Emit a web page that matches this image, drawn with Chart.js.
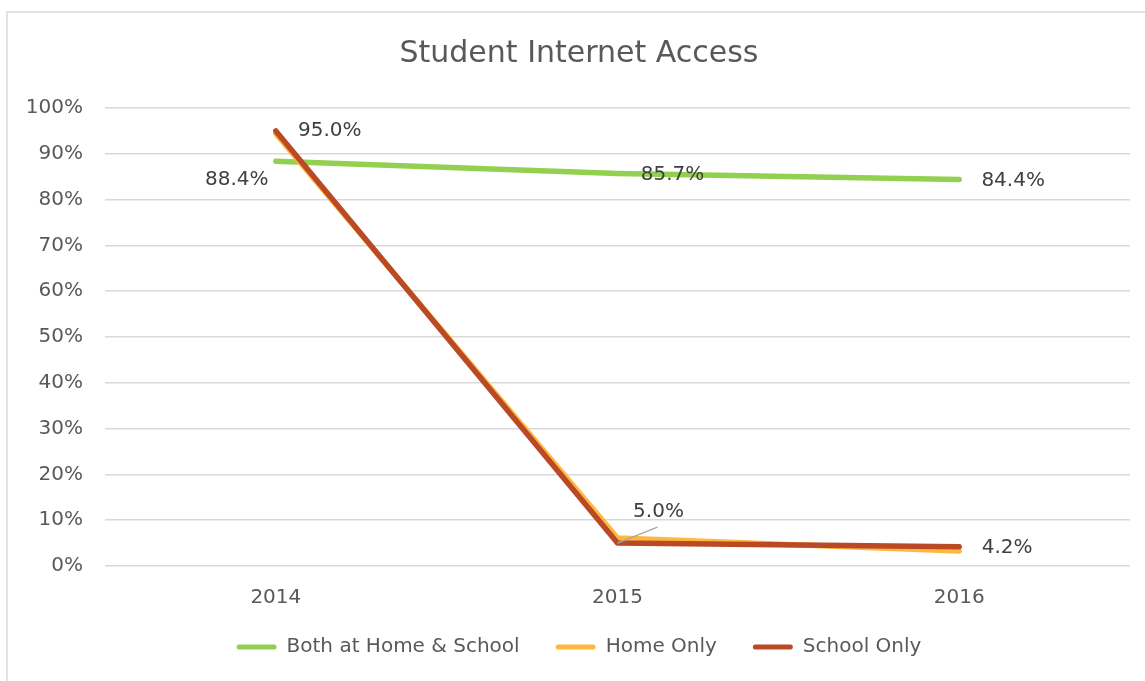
<!DOCTYPE html>
<html>
<head>
<meta charset="utf-8">
<script src="https://cdn.jsdelivr.net/npm/chart.js@4.4.1/dist/chart.umd.min.js"></script>
<style>
html,body{margin:0;padding:0;background:#fff;overflow:hidden;}
#wrap{width:1145px;height:681px;position:relative;}
</style>
</head>
<body>
<div id="wrap"><canvas id="c" width="1145" height="681"></canvas></div>
<script>
const categories = ['2014', '2015', '2016'];
const bothHomeSchool = [88.4, 85.7, 84.4];
const homeOnly = [94.4, 6.1, 3.3];
const schoolOnly = [95.0, 5.0, 4.2];
const yTicks = [0, 10, 20, 30, 40, 50, 60, 70, 80, 90, 100];

const FONT = "'DejaVu Sans', 'Liberation Sans', sans-serif";
const TEXT = '#595959';

// label placement (pixel offsets from the point: style only)
const labelSpec = {
  0: {show: [true, true, true], dx: [-39, 55, 54], dy: [19, 1, 1]},
  2: {show: [true, true, true], dx: [54, 41, 48], dy: [0, -31, 1], leader: [false, true, false]}
};

const frame = {
  id: 'frame',
  beforeDraw(chart) {
    const ctx = chart.ctx;
    ctx.save();
    ctx.fillStyle = '#fff';
    ctx.fillRect(0, 0, chart.width, chart.height);
    ctx.strokeStyle = '#d9d9d9';
    ctx.lineWidth = 1.5;
    ctx.strokeRect(7, 12, chart.width + 20, chart.height + 20);
    ctx.restore();
  },
  afterLayout(chart) {
    // let the category labels draw below the tightened axis box
    const s = chart.scales.x;
    s.bottom = s.top + 60;
  }
};

const dataLabels = {
  id: 'dataLabels',
  afterDatasetsDraw(chart) {
    const ctx = chart.ctx;
    ctx.save();
    ctx.font = '20px ' + FONT;
    ctx.fillStyle = '#404040';
    ctx.textAlign = 'center';
    ctx.textBaseline = 'middle';
    Object.keys(labelSpec).forEach(k => {
      const i = +k;
      const spec = labelSpec[i];
      const meta = chart.getDatasetMeta(i);
      const vals = chart.data.datasets[i].data;
      meta.data.forEach((pt, j) => {
        if (!spec.show[j]) return;
        const x = pt.x + spec.dx[j], y = pt.y + spec.dy[j];
        if (spec.leader && spec.leader[j]) {
          ctx.strokeStyle = '#a6a6a6';
          ctx.lineWidth = 1.3;
          ctx.beginPath();
          ctx.moveTo(pt.x, pt.y);
          ctx.lineTo(x - 1, y + 15);
          ctx.stroke();
        }
        ctx.fillText(vals[j].toFixed(1) + '%', x, y);
      });
    });
    ctx.restore();
  }
};

new Chart(document.getElementById('c'), {
  type: 'line',
  data: {
    labels: categories,
    datasets: [
      {label: 'Both at Home & School', data: bothHomeSchool, borderColor: '#92D050', backgroundColor: '#92D050', borderWidth: 5.5, order: 3},
      {label: 'Home Only', data: homeOnly, borderColor: '#FFB83F', backgroundColor: '#FFB83F', borderWidth: 5.5, order: 2},
      {label: 'School Only', data: schoolOnly, borderColor: '#B94A25', backgroundColor: '#B94A25', borderWidth: 5.5, order: 1}
    ]
  },
  options: {
    responsive: false,
    animation: false,
    devicePixelRatio: 1,
    layout: {padding: {left: 28, right: 15, top: 10, bottom: 14}},
    elements: {
      point: {radius: 0, hoverRadius: 0},
      line: {tension: 0, borderCapStyle: 'round', borderJoinStyle: 'round'}
    },
    plugins: {
      tooltip: {enabled: false},
      title: {
        display: true,
        text: 'Student Internet Access',
        color: TEXT,
        font: {family: FONT, size: 30, weight: 'normal'},
        padding: {top: 26, bottom: 36}
      },
      legend: {
        position: 'bottom',
        labels: {
          color: TEXT,
          font: {family: FONT, size: 20},
          boxWidth: 40,
          boxHeight: 5,
          padding: 36,
          useBorderRadius: true,
          borderRadius: 2.5,
          sort: (a, b) => a.datasetIndex - b.datasetIndex,
          generateLabels(chart) {
            const items = Chart.defaults.plugins.legend.labels.generateLabels(chart);
            items.forEach(it => { it.lineWidth = 0; });
            return items;
          }
        }
      }
    },
    scales: {
      x: {
        offset: true,
        grid: {display: false},
        border: {display: false},
        ticks: {color: TEXT, font: {family: FONT, size: 20}, padding: 12},
        afterFit(scale) { scale.height -= 21; }
      },
      y: {
        min: 0, max: 100,
        afterBuildTicks(scale) { scale.ticks = yTicks.map(v => ({value: v})); },
        afterFit(scale) { scale.width = 77; },
        grid: {color: '#d9d9d9', lineWidth: 1.5, drawTicks: false},
        border: {display: false},
        ticks: {color: TEXT, font: {family: FONT, size: 20}, padding: 22, callback: v => v + '%'}
      }
    }
  },
  plugins: [frame, dataLabels]
});
</script>
</body>
</html>
